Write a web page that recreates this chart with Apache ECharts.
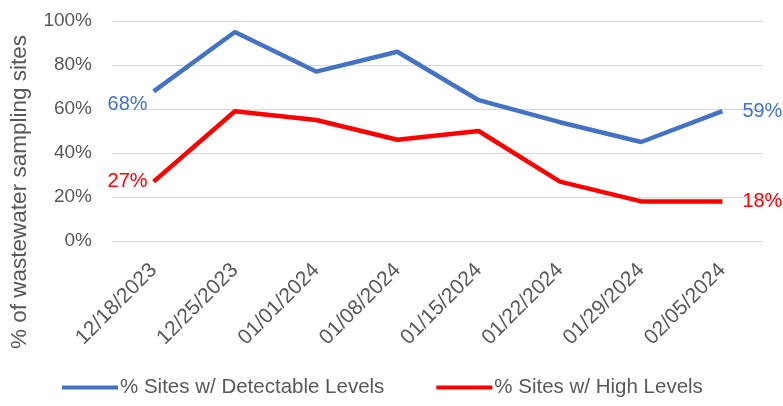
<!DOCTYPE html>
<html>
<head>
<meta charset="utf-8">
<script src="https://cdn.jsdelivr.net/npm/echarts@6/dist/echarts.min.js"></script>
<style>html,body{margin:0;padding:0;background:#fff;}#c{width:783px;height:406px;}</style>
</head>
<body>
<div id="c"></div>
<script>
var categories = ['12/18/2023','12/25/2023','01/01/2024','01/08/2024','01/15/2024','01/22/2024','01/29/2024','02/05/2024'];
var detectable = [68, 95, 77, 86, 64, 54, 45, 59];
var high = [27, 59, 55, 46, 50, 27, 18, 18];
var yTicks = [0, 20, 40, 60, 80, 100];
var seriesNames = ['% Sites w/ Detectable Levels', '% Sites w/ High Levels'];
var yAxisTitle = '% of wastewater sampling sites';

var FONT = 'Liberation Sans';
var GRAY = '#595959';

function buildData(arr, color, firstOffset) {
  return arr.map(function (v, i) {
    var item = { value: v };
    if (i === 0) {
      item.label = { show: true, position: 'left', distance: 6, offset: [0, firstOffset], color: color };
    } else if (i === arr.length - 1) {
      item.label = { show: true, position: 'right', distance: 20, color: color };
    }
    return item;
  });
}

var chart = echarts.init(document.getElementById('c'));
chart.setOption({
  animation: false,
  backgroundColor: '#fff',
  grid: { left: 113, right: 20, top: 21, bottom: 165, containLabel: false },
  xAxis: {
    type: 'category',
    data: categories,
    boundaryGap: true,
    axisLine: { show: false },
    axisTick: { show: false },
    axisLabel: { rotate: 45, color: GRAY, fontSize: 21, fontFamily: FONT, margin: 26 }
  },
  yAxis: {
    type: 'value',
    min: yTicks[0],
    max: yTicks[yTicks.length - 1],
    interval: 20,
    axisLine: { show: false },
    axisTick: { show: false },
    splitLine: { lineStyle: { color: '#d9d9d9', width: 1 } },
    axisLabel: { color: GRAY, fontSize: 19, fontFamily: FONT, margin: 21, formatter: '{value}%' }
  },
  legend: {
    bottom: 8,
    left: 62,
    padding: 0,
    itemWidth: 56,
    itemHeight: 4,
    itemGap: 52,
    icon: 'rect',
    textStyle: { color: GRAY, fontSize: 20.5, fontFamily: FONT, padding: [0, 0, 0, -3] },
    data: seriesNames
  },
  graphic: [{
    type: 'text',
    x: 20,
    y: 192,
    rotation: Math.PI / 2,
    style: {
      text: yAxisTitle,
      fill: GRAY,
      font: '22.5px "' + FONT + '"',
      align: 'center',
      verticalAlign: 'middle'
    }
  }],
  series: [
    {
      name: seriesNames[0],
      type: 'line',
      data: buildData(detectable, '#4472C4', 13),
      symbol: 'circle',
      symbolSize: 0,
      showSymbol: true,
      lineStyle: { color: '#4472C4', width: 4.5 },
      itemStyle: { color: '#4472C4' },
      label: { show: false, fontSize: 20, fontFamily: FONT, formatter: '{c}%' }
    },
    {
      name: seriesNames[1],
      type: 'line',
      data: buildData(high, '#FF0000', 0),
      symbol: 'circle',
      symbolSize: 0,
      showSymbol: true,
      lineStyle: { color: '#FF0000', width: 4.5 },
      itemStyle: { color: '#FF0000' },
      label: { show: false, fontSize: 20, fontFamily: FONT, formatter: '{c}%' }
    }
  ]
});
</script>
</body>
</html>
